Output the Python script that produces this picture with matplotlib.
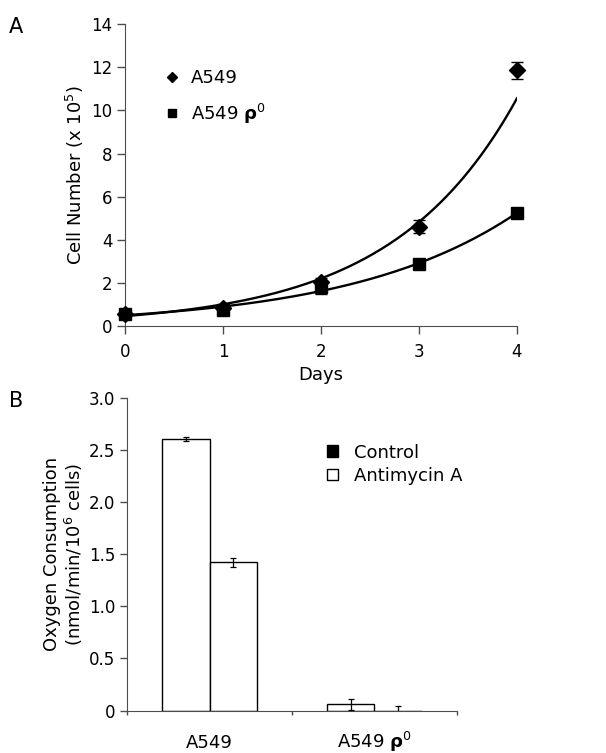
import numpy as np
import matplotlib
matplotlib.use("Agg")
import matplotlib.pyplot as plt
from matplotlib.lines import Line2D
from matplotlib.patches import Patch

plt.rcParams['font.family'] = ['DejaVu Sans']
plt.rcParams['mathtext.fontset'] = 'dejavusans'

# Panel A: growth curves
days = [0, 1, 2, 3, 4]
a549 = [0.55, 0.85, 2.05, 4.6, 11.85]
a549_err = [0.05, 0.08, 0.2, 0.3, 0.4]
rho0 = [0.55, 0.75, 1.8, 2.9, 5.25]
rho0_err = [0.05, 0.08, 0.3, 0.15, 0.15]

# Panel B: oxygen consumption
cell_lines = ["A549", r"A549 $\mathbf{\rho}^{0}$"]
control = [2.6, 0.06]
control_err = [0.02, 0.05]
antimycin = [1.42, 0.0]
antimycin_err = [0.04, 0.045]
b_ticks = [0, 0.5, 1.0, 1.5, 2.0, 2.5, 3.0]
b_ticklabels = ["0", "0.5", "1.0", "1.5", "2.0", "2.5", "3.0"]

FS = 13
TICK_FS = 12
AX_COL = "0.3"

fig = plt.figure(figsize=(6.06, 7.53), dpi=100)

# ---------------- Panel A ----------------
axA = fig.add_axes([0.2063, 0.567, 0.6468, 0.401])
x = np.array(days, dtype=float)

# exponential trendlines (least squares on log values)
xx = np.linspace(0, 4, 200)
for y in (a549, rho0):
    b, lna = np.polyfit(x, np.log(y), 1)
    axA.plot(xx, np.exp(lna) * np.exp(b * xx), color="black", lw=1.7, zorder=2)

axA.errorbar(x, a549, yerr=a549_err, fmt="D", ms=8, color="black",
             capsize=4, elinewidth=1, capthick=1, clip_on=False, zorder=3)
axA.errorbar(x, rho0, yerr=rho0_err, fmt="s", ms=8.5, color="black",
             capsize=4, elinewidth=1, capthick=1, clip_on=False, zorder=3)

axA.set_xlim(0, 4)
axA.set_ylim(0, 14)
axA.set_xticks(days)
axA.set_yticks(range(0, 15, 2))
axA.tick_params(labelsize=TICK_FS, direction="out", length=5.5, width=1, color=AX_COL)
axA.tick_params(axis="x", pad=7)
for s in ("top", "right"):
    axA.spines[s].set_visible(False)
for s in ("left", "bottom"):
    axA.spines[s].set_color(AX_COL)
axA.set_xlabel("Days", fontsize=FS, labelpad=3)
axA.set_ylabel(r"Cell Number (x 10$^{5}$)", fontsize=FS, labelpad=4)

handlesA = [Line2D([], [], ls="none", marker="D", ms=5.5, color="black"),
            Line2D([], [], ls="none", marker="s", ms=6, color="black")]
axA.legend(handlesA, ["A549", r"A549 $\mathbf{\rho}^{0}$"], loc="upper left",
           bbox_to_anchor=(0.052, 0.905), frameon=False, fontsize=FS,
           labelspacing=0.8, handletextpad=0.4, handlelength=1.2)

fig.text(0.015, 0.964, "A", fontsize=15, va="center")

# ---------------- Panel B ----------------
axB = fig.add_axes([0.2096, 0.0562, 0.5445, 0.4159])
pos = np.arange(len(cell_lines))
w = 0.288
axB.bar(pos - w / 2, control, w, facecolor="white", edgecolor="black", lw=1, zorder=2)
axB.bar(pos + w / 2, antimycin, w, facecolor="white", edgecolor="black", lw=1, zorder=2)
axB.errorbar(pos - w / 2, control, yerr=control_err, fmt="none", ecolor="black",
             capsize=2.5, elinewidth=0.9, capthick=0.9, zorder=3)
axB.errorbar(pos + w / 2, antimycin, yerr=antimycin_err, fmt="none", ecolor="black",
             capsize=2.5, elinewidth=0.9, capthick=0.9, zorder=3)

axB.set_xlim(-0.5, 1.5)
axB.set_ylim(0, 3.0)
axB.set_yticks(b_ticks)
axB.set_yticklabels(b_ticklabels)
axB.set_xticks(pos)
axB.set_xticklabels(cell_lines, va="baseline")
axB.set_xticks([-0.5, 0.5, 1.5], minor=True)
axB.tick_params(axis="x", which="major", length=0, pad=27, labelsize=FS)
axB.tick_params(axis="x", which="minor", length=3, width=1, color=AX_COL, direction="out")
axB.tick_params(axis="y", labelsize=TICK_FS, direction="out", length=5, width=1, color=AX_COL)
for s in ("top", "right"):
    axB.spines[s].set_visible(False)
for s in ("left", "bottom"):
    axB.spines[s].set_color(AX_COL)
axB.set_ylabel("Oxygen Consumption\n" + r"(nmol/min/10$^{6}$ cells)", fontsize=FS,
               labelpad=3, linespacing=1.1)

handlesB = [Patch(facecolor="black", edgecolor="black"),
            Patch(facecolor="white", edgecolor="black")]
axB.legend(handlesB, ["Control", "Antimycin A"], loc="upper left",
           bbox_to_anchor=(0.558, 0.905), frameon=False, fontsize=FS,
           labelspacing=0.3, handletextpad=0.9, handlelength=0.6, handleheight=0.6)

fig.text(0.015, 0.467, "B", fontsize=15, va="center")

fig.savefig("out.png", dpi=100)
